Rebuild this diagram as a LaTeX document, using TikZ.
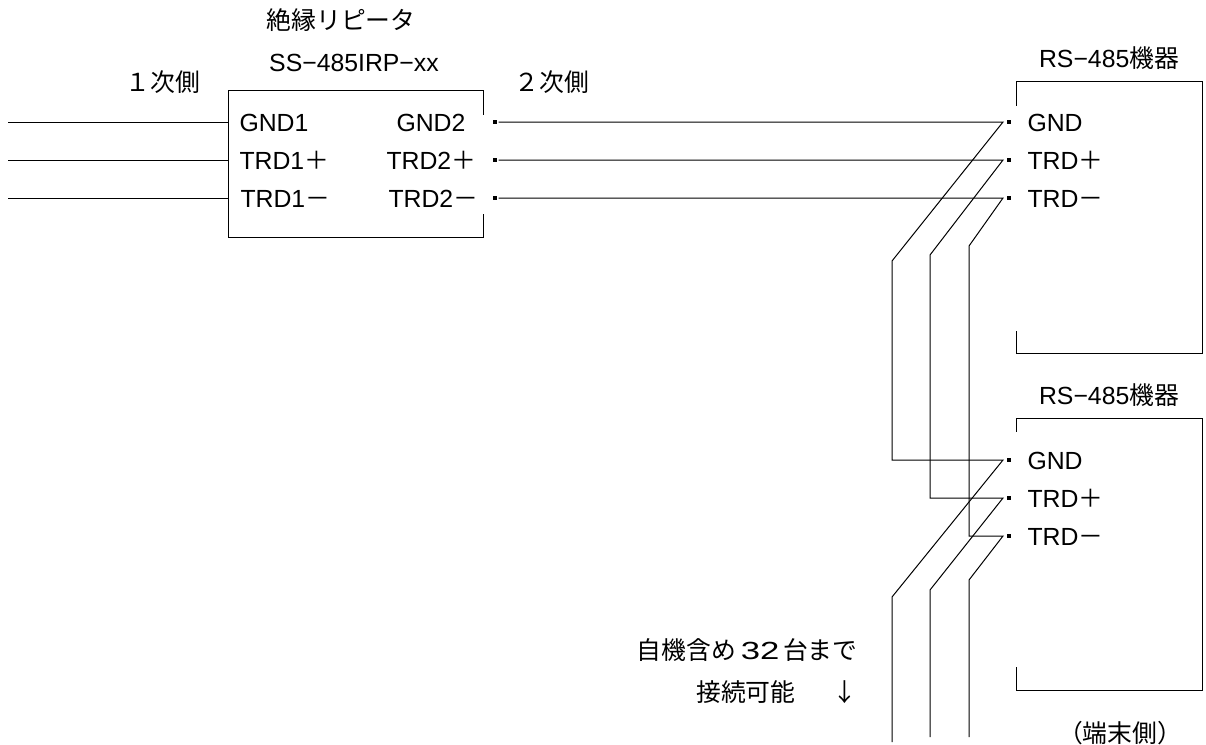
\documentclass[tikz,border=0pt]{standalone}
\usepackage{fontspec}
\setmainfont{Liberation Sans}
\newfontfamily\jp{Noto Sans CJK JP}
\newfontfamily\widedigits{Liberation Sans}[FakeStretch=1.4]
\usetikzlibrary{positioning}

\begin{document}
\begin{tikzpicture}[x=0.5pt, y=-0.5pt, line width=0.5pt,
    lbl/.style={inner sep=0pt, font=\fontsize{12.4}{21}\selectfont},
    jlbl/.style={inner sep=0pt, font=\jp\fontsize{12.4}{21}\selectfont},
    term/.style={fill, inner sep=0pt, minimum size=1.6pt},
    wire/.style={draw, shorten <=0.8pt}
]
    \useasboundingbox (0,0) rectangle (1206,745);

    % Isolated repeater
    \node[minimum width=127pt, minimum height=73pt, inner sep=0pt] (rpt) at (356,164) {};
    \draw ([yshift=-12pt]rpt.north east) -- (rpt.north east) -- (rpt.north west)
        -- (rpt.south west) -- (rpt.south east) -- ([yshift=12pt]rpt.south east);
    \node[jlbl] (rpttitle) at (341,20) {絶縁リピータ};
    \node[lbl] (rptmodel) at (354,63) {SS−485IRP−xx};
    \node[jlbl] (side1) at (163,82) {１次側};
    \node[jlbl] (side2) at (552,82) {２次側};

    % Primary side
    \node[lbl, anchor=base west] (gnd1) at (239,131) {GND1};
    \node[lbl, anchor=base west] (trdp1) at (239,169) {TRD1{\jp ＋}};
    \node[lbl, anchor=base west] (trdm1) at (240,207) {TRD1{\jp －}};
    \coordinate (ina) at (8,122);
    \coordinate (inb) at (8,160);
    \coordinate (inc) at (8,198);
    \draw (ina) -- (ina -| rpt.west);
    \draw (inb) -- (inb -| rpt.west);
    \draw (inc) -- (inc -| rpt.west);

    % Secondary side
    \node[lbl, anchor=base west] (gnd2) at (396,131) {GND2};
    \node[lbl, anchor=base west] (trdp2) at (386,169) {TRD2{\jp ＋}};
    \node[lbl, anchor=base west] (trdm2) at (388,207) {TRD2{\jp －}};
    \node[term] (tga) at (495,122) {};
    \node[term] (tpa) at (495,160) {};
    \node[term] (tma) at (495,198) {};

    % RS-485 device (1)
    \node[minimum width=92.5pt, minimum height=135.5pt, inner sep=0pt] (dev1) at (1109.5,217.5) {};
    \draw ([yshift=-12pt]dev1.north west) -- (dev1.north west) -- (dev1.north east)
        -- (dev1.south east) -- (dev1.south west) -- ([yshift=11.5pt]dev1.south west);
    \node[lbl] (devname1) at (1109,58) {RS−485{\jp 機器}};
    \node[lbl, anchor=base west] (dg1) at (1027,131) {GND};
    \node[lbl, anchor=base west] (dp1) at (1027,169) {TRD{\jp ＋}};
    \node[lbl, anchor=base west] (dm1) at (1027,207) {TRD{\jp －}};
    \node[term] (tgb) at (1009,122) {};
    \node[term] (tpb) at (1009,160) {};
    \node[term] (tmb) at (1009,198) {};

    % RS-485 device (2)
    \node[minimum width=92.5pt, minimum height=135.5pt, inner sep=0pt] (dev2) at (1109.5,554.5) {};
    \draw ([yshift=-6.5pt]dev2.north west) -- (dev2.north west) -- (dev2.north east)
        -- (dev2.south east) -- (dev2.south west) -- ([yshift=12pt]dev2.south west);
    \node[lbl] (devname2) at (1109,395) {RS−485{\jp 機器}};
    \node[lbl, anchor=base west] (dg2) at (1027,469) {GND};
    \node[lbl, anchor=base west] (dp2) at (1027,507) {TRD{\jp ＋}};
    \node[lbl, anchor=base west] (dm2) at (1027,545) {TRD{\jp －}};
    \node[term] (tgc) at (1009,460) {};
    \node[term] (tpc) at (1009,498) {};
    \node[term] (tmc) at (1009,536) {};
    \node[jlbl] (termside) at (1120,733) {（端末側）};

    % Bus wiring
    \coordinate (ga1) at (1003,122);
    \coordinate (ga2) at (892,261);
    \coordinate (ga3) at (892,460);
    \coordinate (ga4) at (1003,460);
    \coordinate (ga5) at (892,597);
    \coordinate (ga6) at (892,742);
    \coordinate (pa1) at (1003,160);
    \coordinate (pa2) at (930,255);
    \coordinate (pa3) at (930,498);
    \coordinate (pa4) at (1003,498);
    \coordinate (pa5) at (930,590);
    \coordinate (pa6) at (930,737);
    \coordinate (ma1) at (1003,198);
    \coordinate (ma2) at (969,246);
    \coordinate (ma3) at (969,536);
    \coordinate (ma4) at (1003,536);
    \coordinate (ma5) at (969,580);
    \coordinate (ma6) at (969,737);
    \path[wire] (tga.east) -- (ga1) -- (ga2) -- (ga3) -- (ga4) -- (ga5) -- (ga6);
    \path[wire] (tpa.east) -- (pa1) -- (pa2) -- (pa3) -- (pa4) -- (pa5) -- (pa6);
    \path[wire] (tma.east) -- (ma1) -- (ma2) -- (ma3) -- (ma4) -- (ma5) -- (ma6);

    % Note
    \node[jlbl, align=right, anchor=east] (count) at (858,671) {自機含め\hspace{0.2em}{\widedigits 32}\hspace{0.15em}台まで\\接続可能\hspace{1.5em}↓};
\end{tikzpicture}
\end{document}
